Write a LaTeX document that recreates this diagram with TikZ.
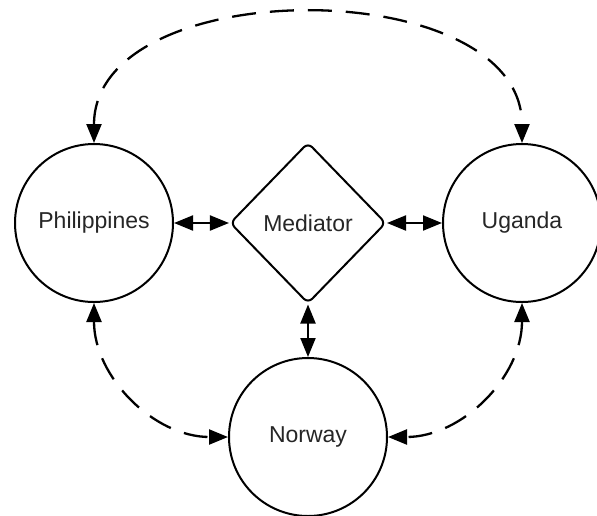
\documentclass[tikz,border=0pt]{standalone}
\usepackage{fontspec}
\setmainfont{Liberation Sans}
\usetikzlibrary{shapes.geometric,arrows.meta}
\begin{document}
\begin{tikzpicture}[x=1pt,y=-1pt,
  party/.style={circle,draw,line width=2pt,minimum size=158pt,inner sep=0pt,
    font=\fontsize{23}{27}\selectfont,text=black!85},
  broker/.style={diamond,draw,line width=2pt,minimum width=156pt,minimum height=161pt,
    inner sep=0pt,rounded corners=6pt,font=\fontsize{23}{27}\selectfont,text=black!85},
  link/.style={line width=2pt,{Triangle[length=19pt,width=15pt]}-{Triangle[length=19pt,width=15pt]}},
  talk/.style={line width=2.3pt,dash pattern=on 24pt off 14pt,
    {Triangle[length=19pt,width=15pt]}-{Triangle[length=19pt,width=15pt]}}]
  \useasboundingbox (0,0) rectangle (597,515);
  \fill[white] (0,0) rectangle (597,515);

  % parties and the mediator
  \node[party]  (phil) at (94,223)  {Philippines};
  \node[party]  (uga)  at (522,223) {Uganda};
  \node[party]  (nor)  at (308,437) {Norway};
  \node[broker] (med)  at (308,223) {Mediator};

  % direct links through the mediator
  \draw[link] (phil) -- (med);
  \draw[link] (med) -- (uga);
  \draw[link] (med) -- (nor);

  % dashed side channels
  \draw[talk] (phil.north) .. controls (94,-28) and (522,-28) .. (uga.north);
  \draw[talk] (phil.south) .. controls (94,377) and (154,437) .. (nor.west);
  \draw[talk] (uga.south) .. controls (522,377) and (462,437) .. (nor.east);
\end{tikzpicture}
\end{document}
